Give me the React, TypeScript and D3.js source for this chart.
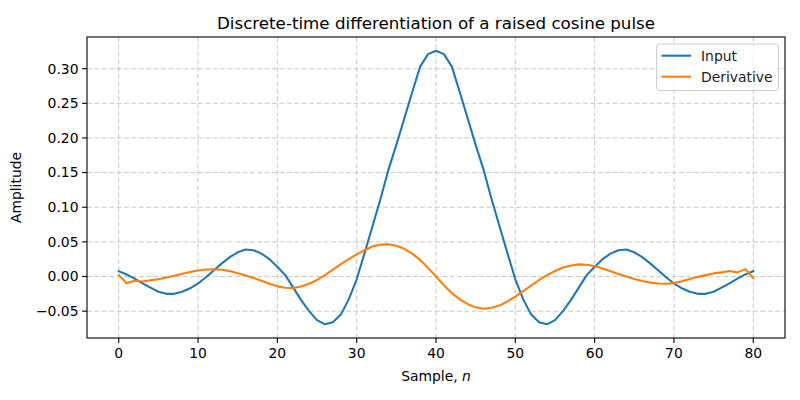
import * as d3 from "d3";

const WIDTH = 800;
const HEIGHT = 400;
const MARGIN = { top: 37, right: 15, bottom: 62, left: 87 };
const FONT = "DejaVu Sans, sans-serif";

// sample index n = 0..80
const samples = d3.range(0, 81);

const inputValues = [
  0.0077, 0.003, -0.003, -0.01, -0.016, -0.022, -0.025, -0.025, -0.022, -0.017,
  -0.01, -0.001, 0.009, 0.019, 0.028, 0.035, 0.039, 0.038, 0.033, 0.025,
  0.014, 0.002, -0.016, -0.034, -0.05, -0.063, -0.069, -0.066, -0.055, -0.033,
  -0.004, 0.034, 0.073, 0.112, 0.154, 0.19, 0.228, 0.266, 0.303, 0.321,
  0.326,
  0.321, 0.303, 0.266, 0.228, 0.19, 0.154, 0.112, 0.073, 0.034, -0.004,
  -0.033, -0.055, -0.066, -0.069, -0.063, -0.05, -0.034, -0.016, 0.002, 0.014,
  0.025, 0.033, 0.038, 0.039, 0.035, 0.028, 0.019, 0.009, -0.001, -0.01,
  -0.017, -0.022, -0.025, -0.025, -0.022, -0.016, -0.01, -0.003, 0.003, 0.0077,
];

const derivativeValues = [
  0.002, -0.0097, -0.006, -0.0072, -0.0055, -0.004, -0.0015, 0.001, 0.004, 0.0065,
  0.0088, 0.0102, 0.0106, 0.0098, 0.0078, 0.0048, 0.0015, -0.002, -0.006, -0.0105,
  -0.0142, -0.0163, -0.0165, -0.0145, -0.0105, -0.005, 0.002, 0.01, 0.018, 0.025,
  0.032, 0.038, 0.0435, 0.046, 0.0465, 0.0445, 0.04, 0.033, 0.024, 0.0125,
  0.0,
  -0.0125, -0.024, -0.033, -0.04, -0.0445, -0.0465, -0.045, -0.042, -0.036, -0.029,
  -0.021, -0.013, -0.005, 0.002, 0.008, 0.013, 0.016, 0.0175, 0.017, 0.0148,
  0.0115, 0.0075, 0.0035, 0.0, -0.0035, -0.0065, -0.0088, -0.0102, -0.0105, -0.0095,
  -0.007, -0.0035, -0.0005, 0.002, 0.0045, 0.006, 0.008, 0.006, 0.0107, -0.0025,
];

const xTicks = [0, 10, 20, 30, 40, 50, 60, 70, 80];
const yTicks = [-0.05, 0.0, 0.05, 0.1, 0.15, 0.2, 0.25, 0.3];

const series = [
  { name: "Input", color: "#1f77b4", values: inputValues },
  { name: "Derivative", color: "#ff7f0e", values: derivativeValues },
];

const fmtY = (v: number) => d3.format(".2f")(v).replace("-", "\u2212");

export default function App() {
  const boundsWidth = WIDTH - MARGIN.left - MARGIN.right;
  const boundsHeight = HEIGHT - MARGIN.top - MARGIN.bottom;

  // matplotlib style 5% padding
  const [x0, x1] = d3.extent(samples) as [number, number];
  const xPad = (x1 - x0) * 0.05;
  const xScale = d3.scaleLinear().domain([x0 - xPad, x1 + xPad]).range([0, boundsWidth]);

  const allY = [...inputValues, ...derivativeValues];
  const [y0, y1] = d3.extent(allY) as [number, number];
  const yPad = (y1 - y0) * 0.05;
  const yScale = d3.scaleLinear().domain([y0 - yPad, y1 + yPad]).range([boundsHeight, 0]);

  const line = (vals: number[]) =>
    d3.line<number>()
      .x((_, i) => xScale(samples[i]))
      .y((d) => yScale(d))(vals) ?? "";

  const gridProps = { stroke: "#b0b0b0", strokeWidth: 0.8, strokeDasharray: "5,2.4", strokeOpacity: 0.85 };

  return (
    <svg width={WIDTH} height={HEIGHT} style={{ position: "absolute", left: 0, top: 0, background: "#fff" }} fontFamily={FONT}>
      <rect width={WIDTH} height={HEIGHT} fill="#fff" />
      <text x={MARGIN.left + boundsWidth / 2} y={29} textAnchor="middle" fontSize={16.7} fill="#000">
        Discrete-time differentiation of a raised cosine pulse
      </text>
      <g transform={`translate(${MARGIN.left},${MARGIN.top})`}>
        {/* grid */}
        {xTicks.map((t) => (
          <line key={"gx" + t} x1={xScale(t)} x2={xScale(t)} y1={0} y2={boundsHeight} {...gridProps} />
        ))}
        {yTicks.map((t) => (
          <line key={"gy" + t} x1={0} x2={boundsWidth} y1={yScale(t)} y2={yScale(t)} {...gridProps} />
        ))}

        {/* lines */}
        {series.map((s) => (
          <path key={s.name} d={line(s.values)} fill="none" stroke={s.color} strokeWidth={2.08} strokeLinejoin="round" strokeLinecap="square" />
        ))}

        {/* frame */}
        <rect x={0} y={0} width={boundsWidth} height={boundsHeight} fill="none" stroke="#000" strokeWidth={1.1} />

        {/* x axis */}
        {xTicks.map((t) => (
          <g key={"xt" + t} transform={`translate(${xScale(t)},${boundsHeight})`}>
            <line y1={0} y2={4.9} stroke="#000" strokeWidth={1.1} />
            <text y={20} textAnchor="middle" fontSize={13.9} fill="#000">{t}</text>
          </g>
        ))}
        {/* y axis */}
        {yTicks.map((t) => (
          <g key={"yt" + t} transform={`translate(0,${yScale(t)})`}>
            <line x1={0} x2={-4.9} stroke="#000" strokeWidth={1.1} />
            <text x={-8.5} dy="0.35em" textAnchor="end" fontSize={13.9} fill="#000">{fmtY(t)}</text>
          </g>
        ))}

        <text x={boundsWidth / 2} y={boundsHeight + 43} textAnchor="middle" fontSize={13.9} fill="#000">
          Sample, <tspan fontStyle="italic">n</tspan>
        </text>
        <text transform={`translate(${-66},${boundsHeight / 2}) rotate(-90)`} textAnchor="middle" fontSize={13.9} fill="#000">
          Amplitude
        </text>

        {/* legend */}
        <g transform={`translate(${boundsWidth - 128.5},7)`}>
          <rect x={0} y={0} width={122} height={46.5} rx={3} fill="#fff" fillOpacity={0.8} stroke="#cccccc" strokeWidth={1} />
          {series.map((s, i) => (
            <g key={"lg" + s.name} transform={`translate(0,${11.7 + i * 21})`}>
              <line x1={5} x2={34.5} stroke={s.color} strokeWidth={2.08} />
              <text x={44.5} dy="0.35em" fontSize={13.9} fill="#222">{s.name}</text>
            </g>
          ))}
        </g>
      </g>
    </svg>
  );
}
